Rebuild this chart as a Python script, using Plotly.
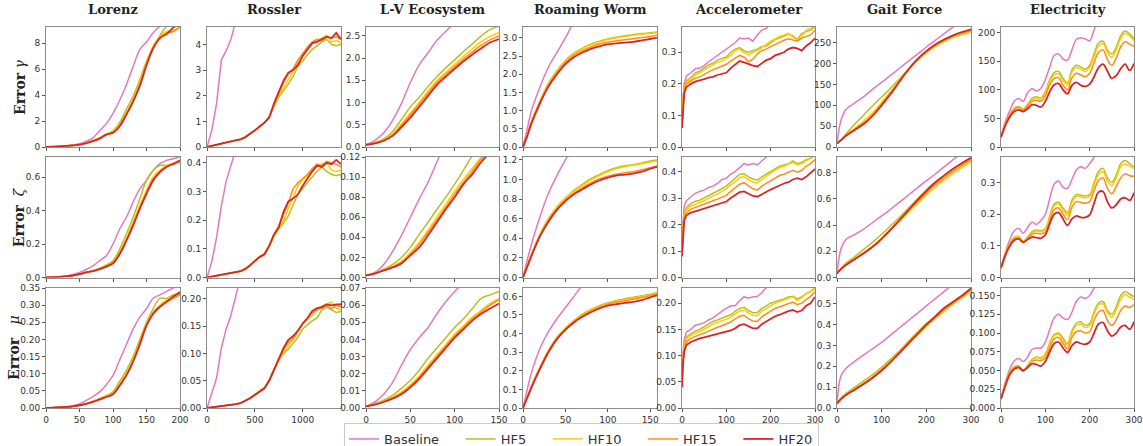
import plotly.graph_objects as go

NAMES = ["Baseline", "HF5", "HF10", "HF15", "HF20"]
COLORS = ["#e377c2", "#bcbd22", "#ffcc00", "#ff8c1a", "#d62728"]
DATASETS = ["Lorenz", "Rossler", "L-V Ecosystem", "Roaming Worm", "Accelerometer", "Gait Force", "Electricity"]
ROW_LABELS = ["<b>Error</b> <i>γ</i>", "<b>Error</b>  <i>ζ</i>", "<b>Error</b>   <i>μ</i>"]

# ---------------- Lorenz ----------------
LOR_X = list(range(0, 201, 10))
LOR_G = [
    [0, 0.02, 0.05, 0.09, 0.15, 0.25, 0.45, 0.7, 1.25, 1.8, 2.6, 3.6, 4.8, 6.2, 7.5, 8.1, 8.8, 9.3, 9.6, 9.9, 10.2],
    [0, 0.02, 0.05, 0.08, 0.12, 0.2, 0.32, 0.5, 0.72, 1.0, 1.25, 1.9, 2.9, 3.9, 5.2, 6.6, 7.7, 8.6, 9.3, 9.6, 9.9],
    [0, 0.02, 0.05, 0.08, 0.12, 0.19, 0.31, 0.47, 0.68, 0.97, 1.15, 1.7, 2.6, 3.6, 4.9, 6.5, 7.8, 8.5, 8.9, 9.0, 9.2],
    [0, 0.02, 0.05, 0.08, 0.12, 0.18, 0.3, 0.46, 0.66, 0.96, 1.12, 1.65, 2.55, 3.55, 4.8, 6.4, 7.7, 8.4, 8.8, 8.9, 9.3],
    [0, 0.02, 0.05, 0.08, 0.12, 0.18, 0.3, 0.45, 0.65, 0.95, 1.1, 1.6, 2.5, 3.5, 4.7, 6.3, 7.6, 8.4, 8.7, 9.2, 9.5],
]
LOR_Z = [
    [0, 0.002, 0.005, 0.01, 0.018, 0.03, 0.048, 0.07, 0.1, 0.13, 0.2, 0.29, 0.36, 0.45, 0.53, 0.58, 0.64, 0.68, 0.70, 0.71, 0.72],
    [0, 0.002, 0.004, 0.007, 0.012, 0.02, 0.032, 0.042, 0.056, 0.075, 0.1, 0.17, 0.26, 0.36, 0.47, 0.58, 0.64, 0.67, 0.67, 0.68, 0.69],
    [0, 0.002, 0.004, 0.007, 0.012, 0.02, 0.031, 0.04, 0.052, 0.068, 0.09, 0.15, 0.23, 0.33, 0.43, 0.52, 0.6, 0.64, 0.67, 0.68, 0.69],
    [0, 0.002, 0.004, 0.007, 0.012, 0.02, 0.03, 0.039, 0.051, 0.066, 0.088, 0.145, 0.225, 0.32, 0.42, 0.51, 0.59, 0.635, 0.665, 0.675, 0.69],
    [0, 0.002, 0.004, 0.007, 0.012, 0.02, 0.03, 0.038, 0.05, 0.065, 0.085, 0.14, 0.22, 0.31, 0.41, 0.5, 0.58, 0.63, 0.66, 0.68, 0.70],
]
LOR_M = [
    [0, 0.001, 0.002, 0.004, 0.007, 0.012, 0.022, 0.033, 0.047, 0.068, 0.095, 0.14, 0.185, 0.23, 0.265, 0.29, 0.32, 0.33, 0.34, 0.35, 0.355],
    [0, 0.001, 0.002, 0.003, 0.005, 0.008, 0.013, 0.02, 0.028, 0.036, 0.048, 0.078, 0.11, 0.15, 0.2, 0.25, 0.29, 0.32, 0.32, 0.33, 0.335],
    [0, 0.001, 0.002, 0.003, 0.005, 0.008, 0.012, 0.019, 0.026, 0.034, 0.044, 0.07, 0.1, 0.14, 0.19, 0.245, 0.28, 0.3, 0.315, 0.32, 0.33],
    [0, 0.001, 0.002, 0.003, 0.005, 0.008, 0.012, 0.018, 0.025, 0.033, 0.042, 0.068, 0.097, 0.138, 0.188, 0.242, 0.277, 0.297, 0.31, 0.32, 0.333],
    [0, 0.001, 0.002, 0.003, 0.005, 0.008, 0.012, 0.018, 0.025, 0.032, 0.04, 0.065, 0.095, 0.135, 0.185, 0.24, 0.275, 0.295, 0.31, 0.325, 0.338],
]

# ---------------- Rossler ----------------
ROS_X = list(range(0, 1401, 50))
ROS_G = [
    [0, 0.65, 1.7, 3.4, 3.75, 4.2, 4.9, 5.5],
    [0, 0.05, 0.1, 0.14, 0.19, 0.22, 0.26, 0.3, 0.4, 0.52, 0.66, 0.8, 0.95, 1.2, 1.6, 1.95, 2.2, 2.45, 2.75, 3.15, 3.35, 3.6, 3.8, 3.95, 4.1, 4.2, 4.0, 3.95, 4.0],
    [0, 0.05, 0.1, 0.14, 0.19, 0.22, 0.26, 0.3, 0.39, 0.51, 0.65, 0.8, 0.95, 1.18, 1.62, 2.0, 2.3, 2.6, 2.95, 3.35, 3.6, 3.85, 4.05, 4.15, 4.25, 4.35, 4.1, 4.15, 4.05],
    [0, 0.05, 0.1, 0.14, 0.19, 0.22, 0.26, 0.3, 0.38, 0.5, 0.65, 0.8, 0.95, 1.16, 1.65, 2.1, 2.5, 2.85, 3.05, 3.4, 3.65, 3.9, 4.1, 4.2, 4.15, 4.3, 4.25, 4.3, 4.2],
    [0, 0.05, 0.1, 0.14, 0.19, 0.22, 0.26, 0.3, 0.38, 0.5, 0.65, 0.8, 0.95, 1.15, 1.7, 2.15, 2.6, 2.9, 3.0, 3.2, 3.55, 3.8, 4.05, 4.1, 4.2, 4.3, 4.25, 4.45, 4.2],
]
ROS_Z = [
    [0, 0.055, 0.14, 0.25, 0.335, 0.39, 0.44, 0.5],
    [0, 0.003, 0.007, 0.01, 0.013, 0.016, 0.019, 0.022, 0.031, 0.044, 0.06, 0.073, 0.085, 0.11, 0.145, 0.17, 0.19, 0.215, 0.25, 0.29, 0.31, 0.33, 0.35, 0.37, 0.385, 0.37, 0.36, 0.355, 0.36],
    [0, 0.003, 0.007, 0.01, 0.013, 0.016, 0.019, 0.022, 0.03, 0.043, 0.059, 0.072, 0.083, 0.11, 0.145, 0.17, 0.2, 0.24, 0.28, 0.32, 0.34, 0.355, 0.375, 0.39, 0.395, 0.40, 0.375, 0.37, 0.375],
    [0, 0.003, 0.007, 0.01, 0.013, 0.016, 0.019, 0.022, 0.03, 0.042, 0.058, 0.072, 0.082, 0.11, 0.15, 0.18, 0.22, 0.26, 0.31, 0.33, 0.345, 0.36, 0.38, 0.395, 0.39, 0.405, 0.40, 0.395, 0.385],
    [0, 0.003, 0.007, 0.01, 0.013, 0.016, 0.019, 0.022, 0.03, 0.042, 0.058, 0.072, 0.08, 0.11, 0.15, 0.175, 0.23, 0.265, 0.275, 0.29, 0.32, 0.345, 0.37, 0.39, 0.385, 0.4, 0.395, 0.41, 0.395],
]
ROS_M = [
    [0, 0.027, 0.055, 0.11, 0.145, 0.17, 0.21, 0.24],
    [0, 0.001, 0.002, 0.003, 0.004, 0.005, 0.007, 0.009, 0.013, 0.019, 0.025, 0.031, 0.038, 0.052, 0.07, 0.088, 0.1, 0.108, 0.118, 0.13, 0.145, 0.152, 0.16, 0.165, 0.18, 0.185, 0.18, 0.175, 0.177],
    [0, 0.001, 0.002, 0.003, 0.004, 0.005, 0.007, 0.009, 0.013, 0.018, 0.024, 0.03, 0.037, 0.051, 0.07, 0.09, 0.103, 0.114, 0.125, 0.14, 0.155, 0.162, 0.172, 0.18, 0.187, 0.19, 0.194, 0.183, 0.18],
    [0, 0.001, 0.002, 0.003, 0.004, 0.005, 0.007, 0.009, 0.013, 0.018, 0.024, 0.03, 0.036, 0.05, 0.07, 0.091, 0.108, 0.12, 0.128, 0.14, 0.155, 0.165, 0.175, 0.18, 0.183, 0.188, 0.182, 0.188, 0.185],
    [0, 0.001, 0.002, 0.003, 0.004, 0.005, 0.007, 0.009, 0.013, 0.018, 0.024, 0.03, 0.036, 0.05, 0.07, 0.092, 0.11, 0.125, 0.132, 0.142, 0.155, 0.165, 0.178, 0.183, 0.185, 0.19, 0.188, 0.19, 0.19],
]

# ---------------- L-V Ecosystem ----------------
LV_X = list(range(0, 151, 10))
LV_G = [
    [0.05, 0.15, 0.32, 0.6, 0.98, 1.45, 1.85, 2.12, 2.4, 2.6, 2.8, 3.0],
    [0.05, 0.1, 0.18, 0.35, 0.62, 0.9, 1.12, 1.36, 1.58, 1.78, 1.96, 2.15, 2.32, 2.5, 2.64, 2.72],
    [0.05, 0.09, 0.16, 0.29, 0.52, 0.76, 1.0, 1.26, 1.49, 1.68, 1.86, 2.04, 2.21, 2.37, 2.49, 2.58],
    [0.05, 0.085, 0.15, 0.27, 0.49, 0.72, 0.96, 1.21, 1.45, 1.63, 1.81, 1.98, 2.14, 2.29, 2.41, 2.5],
    [0.05, 0.08, 0.14, 0.25, 0.45, 0.66, 0.9, 1.15, 1.4, 1.58, 1.76, 1.93, 2.08, 2.22, 2.35, 2.43],
]
LV_Z = [
    [0.002, 0.005, 0.013, 0.026, 0.042, 0.06, 0.078, 0.095, 0.115, 0.135],
    [0.002, 0.004, 0.008, 0.013, 0.02, 0.03, 0.043, 0.055, 0.068, 0.08, 0.093, 0.107, 0.122],
    [0.002, 0.0045, 0.0075, 0.011, 0.016, 0.025, 0.035, 0.047, 0.06, 0.073, 0.086, 0.098, 0.109, 0.12, 0.13],
    [0.002, 0.004, 0.0072, 0.0105, 0.015, 0.023, 0.033, 0.045, 0.057, 0.07, 0.083, 0.095, 0.106, 0.118, 0.127],
    [0.002, 0.004, 0.007, 0.01, 0.014, 0.022, 0.03, 0.042, 0.055, 0.068, 0.08, 0.093, 0.103, 0.115, 0.124, 0.13],
]
LV_M = [
    [0.001, 0.0035, 0.008, 0.015, 0.025, 0.034, 0.041, 0.047, 0.055, 0.062, 0.068, 0.073],
    [0.001, 0.0025, 0.0045, 0.0075, 0.0115, 0.016, 0.022, 0.029, 0.035, 0.041, 0.047, 0.052, 0.058, 0.064, 0.066, 0.068],
    [0.001, 0.0022, 0.004, 0.0063, 0.0092, 0.0135, 0.0185, 0.025, 0.031, 0.037, 0.043, 0.048, 0.053, 0.057, 0.061, 0.064],
    [0.001, 0.0021, 0.0037, 0.006, 0.0087, 0.0128, 0.018, 0.024, 0.030, 0.036, 0.042, 0.047, 0.052, 0.056, 0.060, 0.063],
    [0.001, 0.002, 0.0035, 0.0055, 0.008, 0.012, 0.017, 0.023, 0.029, 0.035, 0.041, 0.046, 0.051, 0.055, 0.058, 0.061],
]

# ---------------- Roaming Worm ----------------
RW_X = [0, 5, 10, 20, 30, 40, 50, 60, 70, 80, 90, 100, 110, 120, 130, 140, 150, 158]
RW_G = [
    [0, 0.5, 1.0, 1.65, 2.2, 2.6, 3.0, 3.45],
    [0, 0.35, 0.7, 1.27, 1.75, 2.1, 2.38, 2.58, 2.72, 2.83, 2.91, 2.97, 3.02, 3.06, 3.09, 3.12, 3.14, 3.16],
    [0, 0.34, 0.69, 1.25, 1.73, 2.08, 2.36, 2.56, 2.7, 2.81, 2.89, 2.95, 3.0, 3.04, 3.07, 3.1, 3.12, 3.14],
    [0, 0.32, 0.67, 1.22, 1.7, 2.04, 2.32, 2.52, 2.65, 2.75, 2.83, 2.88, 2.92, 2.95, 2.98, 3.01, 3.04, 3.07],
    [0, 0.3, 0.65, 1.2, 1.66, 2.0, 2.28, 2.47, 2.6, 2.7, 2.77, 2.82, 2.85, 2.87, 2.89, 2.93, 2.97, 3.0],
]
RW_Z = [
    [0, 0.18, 0.34, 0.62, 0.86, 1.04, 1.2, 1.35],
    [0, 0.12, 0.24, 0.44, 0.6, 0.72, 0.81, 0.89, 0.95, 1.01, 1.05, 1.09, 1.12, 1.14, 1.15, 1.17, 1.19, 1.2],
    [0, 0.12, 0.235, 0.435, 0.595, 0.715, 0.805, 0.88, 0.94, 0.995, 1.04, 1.08, 1.11, 1.13, 1.145, 1.16, 1.18, 1.19],
    [0, 0.11, 0.225, 0.425, 0.58, 0.7, 0.79, 0.86, 0.915, 0.965, 1.005, 1.035, 1.055, 1.07, 1.08, 1.1, 1.12, 1.14],
    [0, 0.11, 0.22, 0.42, 0.57, 0.69, 0.78, 0.85, 0.9, 0.95, 0.99, 1.02, 1.04, 1.05, 1.06, 1.08, 1.11, 1.13],
]
RW_M = [
    [0, 0.1, 0.19, 0.32, 0.41, 0.48, 0.54, 0.6, 0.66],
    [0, 0.06, 0.12, 0.22, 0.31, 0.38, 0.43, 0.47, 0.505, 0.53, 0.55, 0.565, 0.578, 0.587, 0.595, 0.603, 0.612, 0.62],
    [0, 0.058, 0.117, 0.217, 0.307, 0.377, 0.427, 0.467, 0.5, 0.526, 0.546, 0.561, 0.574, 0.583, 0.591, 0.6, 0.609, 0.617],
    [0, 0.056, 0.114, 0.213, 0.303, 0.373, 0.423, 0.463, 0.495, 0.52, 0.54, 0.556, 0.568, 0.577, 0.585, 0.594, 0.604, 0.614],
    [0, 0.055, 0.11, 0.21, 0.3, 0.37, 0.42, 0.46, 0.49, 0.515, 0.535, 0.55, 0.558, 0.565, 0.57, 0.58, 0.595, 0.605],
]

# ---------------- Accelerometer ----------------
AC_X = [0, 2, 5] + list(range(10, 301, 10))
AC_G = [
    [0.06, 0.15, 0.2, 0.225, 0.235, 0.248, 0.25, 0.258, 0.27, 0.28, 0.29, 0.298, 0.31, 0.32, 0.33, 0.345, 0.342, 0.345, 0.335, 0.355, 0.37, 0.375, 0.39],
    [0.06, 0.14, 0.19, 0.21, 0.22, 0.235, 0.24, 0.25, 0.26, 0.265, 0.275, 0.28, 0.285, 0.3, 0.31, 0.315, 0.305, 0.3, 0.305, 0.31, 0.318, 0.32, 0.33, 0.34, 0.345, 0.352, 0.358, 0.352, 0.34, 0.36, 0.365, 0.37, 0.38],
    [0.06, 0.14, 0.185, 0.205, 0.215, 0.228, 0.235, 0.245, 0.252, 0.26, 0.268, 0.272, 0.28, 0.29, 0.305, 0.31, 0.3, 0.292, 0.3, 0.305, 0.315, 0.325, 0.335, 0.342, 0.35, 0.355, 0.36, 0.348, 0.338, 0.35, 0.37, 0.375, 0.385],
    [0.06, 0.13, 0.18, 0.2, 0.208, 0.218, 0.222, 0.23, 0.238, 0.245, 0.25, 0.255, 0.262, 0.272, 0.282, 0.29, 0.285, 0.27, 0.278, 0.295, 0.305, 0.31, 0.318, 0.325, 0.33, 0.338, 0.343, 0.34, 0.335, 0.345, 0.35, 0.355, 0.37],
    [0.06, 0.12, 0.17, 0.19, 0.2, 0.207, 0.21, 0.215, 0.22, 0.222, 0.228, 0.232, 0.235, 0.25, 0.26, 0.272, 0.268, 0.262, 0.258, 0.255, 0.265, 0.275, 0.28, 0.29, 0.295, 0.3, 0.31, 0.315, 0.312, 0.305, 0.32, 0.33, 0.345],
]
AC_Z = [
    [0.08, 0.2, 0.27, 0.29, 0.305, 0.318, 0.325, 0.33, 0.34, 0.345, 0.355, 0.37, 0.375, 0.39, 0.4, 0.415, 0.43, 0.425, 0.43, 0.425, 0.44, 0.455, 0.47],
    [0.08, 0.18, 0.24, 0.265, 0.28, 0.288, 0.292, 0.3, 0.31, 0.318, 0.325, 0.335, 0.345, 0.36, 0.375, 0.39, 0.392, 0.38, 0.372, 0.368, 0.38, 0.39, 0.4, 0.41, 0.42, 0.425, 0.43, 0.44, 0.43, 0.435, 0.445, 0.45, 0.46],
    [0.08, 0.175, 0.235, 0.255, 0.27, 0.278, 0.283, 0.29, 0.3, 0.308, 0.315, 0.325, 0.335, 0.35, 0.362, 0.378, 0.38, 0.37, 0.36, 0.358, 0.37, 0.382, 0.395, 0.405, 0.415, 0.42, 0.428, 0.435, 0.425, 0.43, 0.44, 0.45, 0.465],
    [0.08, 0.17, 0.225, 0.245, 0.258, 0.265, 0.27, 0.276, 0.283, 0.29, 0.296, 0.303, 0.31, 0.325, 0.34, 0.352, 0.358, 0.345, 0.335, 0.33, 0.345, 0.355, 0.365, 0.375, 0.385, 0.39, 0.398, 0.405, 0.398, 0.405, 0.42, 0.43, 0.445],
    [0.08, 0.16, 0.215, 0.235, 0.245, 0.25, 0.255, 0.26, 0.265, 0.27, 0.275, 0.28, 0.287, 0.3, 0.31, 0.322, 0.325, 0.315, 0.308, 0.305, 0.315, 0.325, 0.332, 0.34, 0.348, 0.355, 0.36, 0.37, 0.375, 0.37, 0.38, 0.395, 0.41],
]
AC_M = [
    [0.04, 0.1, 0.13, 0.145, 0.15, 0.158, 0.16, 0.163, 0.168, 0.172, 0.178, 0.185, 0.19, 0.195, 0.195, 0.205, 0.212, 0.21, 0.212, 0.213, 0.22, 0.23, 0.24],
    [0.04, 0.09, 0.12, 0.135, 0.142, 0.147, 0.15, 0.155, 0.16, 0.165, 0.168, 0.172, 0.175, 0.178, 0.185, 0.19, 0.192, 0.186, 0.182, 0.182, 0.19, 0.195, 0.2, 0.203, 0.205, 0.208, 0.212, 0.213, 0.208, 0.212, 0.218, 0.222, 0.228],
    [0.04, 0.088, 0.117, 0.132, 0.138, 0.143, 0.146, 0.15, 0.155, 0.16, 0.163, 0.167, 0.17, 0.173, 0.18, 0.185, 0.187, 0.181, 0.177, 0.176, 0.185, 0.19, 0.196, 0.2, 0.203, 0.206, 0.21, 0.212, 0.205, 0.21, 0.218, 0.223, 0.23],
    [0.04, 0.086, 0.113, 0.127, 0.133, 0.137, 0.14, 0.143, 0.147, 0.151, 0.154, 0.157, 0.16, 0.164, 0.17, 0.175, 0.177, 0.17, 0.166, 0.165, 0.174, 0.18, 0.185, 0.19, 0.193, 0.196, 0.2, 0.202, 0.197, 0.2, 0.207, 0.213, 0.222],
    [0.04, 0.082, 0.108, 0.12, 0.126, 0.13, 0.133, 0.135, 0.137, 0.139, 0.141, 0.143, 0.145, 0.148, 0.152, 0.158, 0.16, 0.156, 0.152, 0.152, 0.16, 0.165, 0.17, 0.175, 0.178, 0.182, 0.185, 0.187, 0.183, 0.186, 0.195, 0.2, 0.212],
]

# ---------------- Gait Force ----------------
GF_X = [0, 5, 10] + list(range(20, 301, 20))
GF_G = [
    [8, 45, 68, 90, 106, 121, 139, 155, 172, 189, 206, 223, 240, 256, 272, 288, 300, 310],
    [8, 14, 19, 31, 55, 77, 99, 120, 141, 164, 187, 210, 230, 246, 258, 268, 276, 283],
    [8, 13, 18, 28, 45, 62, 83, 107, 133, 160, 186, 208, 226, 241, 253, 263, 270, 276],
    [8, 13, 17.5, 27.5, 43, 58, 78, 103, 130, 158, 186, 209, 228, 244, 256, 266, 273, 279],
    [8, 13, 17, 27, 41, 55, 75, 100, 127, 157, 186, 211, 230, 246, 258, 268, 276, 282],
]
GF_Z = [
    [0.03, 0.16, 0.23, 0.29, 0.33, 0.37, 0.42, 0.47, 0.52, 0.575, 0.63, 0.685, 0.74, 0.79, 0.845, 0.9, 0.95, 1.0],
    [0.03, 0.055, 0.075, 0.11, 0.16, 0.215, 0.27, 0.33, 0.395, 0.46, 0.53, 0.6, 0.67, 0.73, 0.78, 0.83, 0.87, 0.905],
    [0.03, 0.052, 0.07, 0.1, 0.145, 0.19, 0.24, 0.3, 0.365, 0.43, 0.5, 0.565, 0.63, 0.69, 0.745, 0.795, 0.84, 0.885],
    [0.03, 0.051, 0.069, 0.098, 0.142, 0.188, 0.238, 0.298, 0.365, 0.435, 0.508, 0.578, 0.645, 0.708, 0.762, 0.812, 0.857, 0.9],
    [0.03, 0.05, 0.068, 0.095, 0.14, 0.185, 0.235, 0.295, 0.365, 0.44, 0.515, 0.59, 0.66, 0.725, 0.78, 0.83, 0.875, 0.915],
]
GF_M = [
    [0.02, 0.12, 0.16, 0.19, 0.225, 0.255, 0.285, 0.315, 0.35, 0.385, 0.42, 0.455, 0.49, 0.525, 0.56, 0.595, 0.63, 0.66],
    [0.02, 0.037, 0.05, 0.07, 0.1, 0.13, 0.16, 0.195, 0.235, 0.275, 0.32, 0.365, 0.405, 0.44, 0.475, 0.51, 0.54, 0.57],
    [0.02, 0.035, 0.047, 0.065, 0.092, 0.12, 0.15, 0.185, 0.225, 0.265, 0.31, 0.352, 0.392, 0.43, 0.465, 0.5, 0.53, 0.56],
    [0.02, 0.034, 0.046, 0.063, 0.09, 0.117, 0.147, 0.182, 0.222, 0.265, 0.31, 0.354, 0.396, 0.435, 0.472, 0.505, 0.535, 0.568],
    [0.02, 0.034, 0.045, 0.062, 0.088, 0.115, 0.145, 0.18, 0.22, 0.265, 0.31, 0.355, 0.4, 0.44, 0.48, 0.51, 0.54, 0.575],
]

# ---------------- Electricity ----------------
EL_X = list(range(0, 301, 10))
EL_G = [
    [17, 45, 64, 80, 85, 80, 95, 102, 98, 103, 118, 140, 160, 163, 154, 152, 170, 188, 191, 189, 186, 205, 225, 235],
    [17, 40, 57, 68, 71, 66, 75, 85, 88, 86, 97, 118, 130, 132, 120, 112, 135, 143, 140, 136, 143, 163, 182, 185, 170, 163, 175, 195, 203, 198, 190],
    [17, 40, 57, 67, 70, 65, 74, 83, 86, 84, 95, 115, 126, 128, 116, 108, 131, 139, 136, 132, 139, 158, 177, 181, 165, 157, 170, 190, 199, 194, 186],
    [17, 39, 56, 66, 69, 64, 72, 80, 82, 80, 90, 109, 120, 121, 108, 100, 121, 129, 126, 123, 129, 148, 166, 170, 153, 143, 156, 175, 184, 180, 176],
    [17, 38, 53, 62, 65, 62, 67, 74, 73, 70, 80, 97, 109, 111, 100, 93, 108, 113, 108, 106, 110, 123, 139, 145, 133, 120, 125, 137, 145, 134, 146],
]
EL_Z = [
    [0.03, 0.08, 0.12, 0.148, 0.155, 0.14, 0.158, 0.175, 0.168, 0.18, 0.2, 0.25, 0.295, 0.305, 0.285, 0.282, 0.31, 0.34, 0.35, 0.345, 0.36, 0.38, 0.4],
    [0.03, 0.075, 0.108, 0.127, 0.13, 0.115, 0.128, 0.145, 0.15, 0.148, 0.155, 0.195, 0.232, 0.238, 0.22, 0.205, 0.245, 0.262, 0.26, 0.258, 0.262, 0.3, 0.335, 0.345, 0.315, 0.3, 0.325, 0.36, 0.37, 0.36, 0.35],
    [0.03, 0.075, 0.107, 0.125, 0.128, 0.113, 0.126, 0.142, 0.147, 0.145, 0.152, 0.19, 0.227, 0.232, 0.213, 0.197, 0.238, 0.257, 0.255, 0.252, 0.256, 0.292, 0.326, 0.335, 0.305, 0.29, 0.315, 0.35, 0.36, 0.352, 0.345],
    [0.03, 0.073, 0.104, 0.121, 0.124, 0.11, 0.122, 0.137, 0.14, 0.138, 0.145, 0.18, 0.215, 0.22, 0.2, 0.183, 0.222, 0.24, 0.238, 0.235, 0.24, 0.275, 0.307, 0.315, 0.282, 0.265, 0.288, 0.315, 0.328, 0.322, 0.32],
    [0.03, 0.07, 0.1, 0.118, 0.122, 0.112, 0.12, 0.128, 0.126, 0.124, 0.135, 0.17, 0.2, 0.205, 0.185, 0.165, 0.185, 0.195, 0.19, 0.19, 0.198, 0.235, 0.27, 0.272, 0.24, 0.22, 0.23, 0.248, 0.252, 0.244, 0.268],
]
EL_M = [
    [0.012, 0.035, 0.052, 0.063, 0.066, 0.062, 0.068, 0.078, 0.08, 0.08, 0.088, 0.105, 0.12, 0.125, 0.12, 0.118, 0.128, 0.142, 0.148, 0.146, 0.15, 0.16, 0.17],
    [0.012, 0.032, 0.048, 0.055, 0.056, 0.05, 0.057, 0.065, 0.068, 0.067, 0.072, 0.087, 0.098, 0.1, 0.093, 0.086, 0.103, 0.113, 0.115, 0.11, 0.113, 0.128, 0.14, 0.142, 0.13, 0.125, 0.135, 0.15, 0.155, 0.152, 0.148],
    [0.012, 0.032, 0.047, 0.054, 0.055, 0.049, 0.056, 0.064, 0.067, 0.066, 0.071, 0.085, 0.096, 0.098, 0.09, 0.083, 0.1, 0.11, 0.112, 0.107, 0.11, 0.125, 0.137, 0.139, 0.127, 0.121, 0.131, 0.145, 0.151, 0.148, 0.145],
    [0.012, 0.031, 0.046, 0.053, 0.054, 0.049, 0.055, 0.062, 0.064, 0.063, 0.067, 0.081, 0.092, 0.094, 0.086, 0.079, 0.094, 0.102, 0.103, 0.1, 0.102, 0.117, 0.128, 0.13, 0.117, 0.11, 0.118, 0.13, 0.136, 0.134, 0.138],
    [0.012, 0.03, 0.045, 0.052, 0.054, 0.05, 0.054, 0.059, 0.058, 0.056, 0.062, 0.075, 0.086, 0.088, 0.08, 0.074, 0.083, 0.088, 0.086, 0.085, 0.088, 0.1, 0.112, 0.114, 0.103, 0.096, 0.1, 0.108, 0.11, 0.105, 0.115],
]

# ---------------- axis settings ----------------
XS = [LOR_X, ROS_X, LV_X, RW_X, AC_X, GF_X, EL_X]
PANELS = [
    [LOR_G, LOR_Z, LOR_M], [ROS_G, ROS_Z, ROS_M], [LV_G, LV_Z, LV_M], [RW_G, RW_Z, RW_M],
    [AC_G, AC_Z, AC_M], [GF_G, GF_Z, GF_M], [EL_G, EL_Z, EL_M],
]
SHAPES = ["spline", "linear", "spline", "spline", "linear", "spline", "spline"]
X_MAX = [200, 1400, 150, 158, 300, 300, 300]
X_DTICK = [50, 500, 50, 50, 100, 100, 100]
Y_MAX = [
    [9.25, 0.72, 0.35], [4.68, 0.42, 0.22], [2.7, 0.12, 0.07], [3.3, 1.23, 0.645],
    [0.38, 0.455, 0.229], [288, 0.92, 0.576], [210, 0.381, 0.16],
]
Y_DTICK = [
    [2, 0.2, 0.05], [1, 0.1, 0.05], [0.5, 0.02, 0.01], [0.5, 0.2, 0.1],
    [0.1, 0.1, 0.05], [50, 0.2, 0.1], [50, 0.1, 0.025],
]
Y_FMT = [
    ["d", ".1f", ".2f"], ["d", ".1f", ".2f"], [".1f", ".2f", ".2f"], [".1f", ".1f", ".1f"],
    [".1f", ".1f", ".2f"], ["d", ".1f", ".1f"], ["d", ".1f", ".3f"],
]

W, H = 1143, 446
COL_PX = [(46, 180), (207, 341), (366, 499), (523, 657), (682, 815), (837, 971), (1001, 1134)]
ROW_PX = [(27, 147), (157, 277.5), (288, 408)]
ROW_LABEL_X = [20, 19, 14]
PAD = "\u00a0" * 4

fig = go.Figure()
layout = dict(
    width=W, height=H, margin=dict(l=0, r=0, t=0, b=0, autoexpand=False),
    paper_bgcolor="white", plot_bgcolor="white", annotations=[],
)
tick_font = dict(family="DejaVu Sans", size=9, color="#333333")

for c in range(7):
    for r in range(3):
        k = r * 7 + c + 1
        xa = "x" if k == 1 else f"x{k}"
        ya = "y" if k == 1 else f"y{k}"
        series = PANELS[c][r]
        xs = XS[c]
        for s in range(5):
            ys = series[s]
            fig.add_trace(go.Scatter(
                x=xs[:len(ys)], y=ys, mode="lines",
                name=NAMES[s] + (PAD if s < 4 else ""),
                line=dict(color=COLORS[s], width=1.8 if s == 4 else 1.5, shape=SHAPES[c]),
                showlegend=(k == 1), legendgroup=NAMES[s], xaxis=xa, yaxis=ya,
                hoverinfo="skip",
            ))
        x0, x1 = COL_PX[c]
        y0, y1 = ROW_PX[r]
        common = dict(showline=True, mirror=True, linecolor="#8c8c8c", linewidth=1,
                      showgrid=False, zeroline=False, ticks="outside", ticklen=3,
                      tickcolor="#555555", tickwidth=1, tickfont=tick_font)
        layout[f"xaxis{k}"] = dict(
            domain=[x0 / W, x1 / W], anchor=ya, range=[0, X_MAX[c]],
            tick0=0, dtick=X_DTICK[c], showticklabels=(r == 2), **common)
        layout[f"yaxis{k}"] = dict(
            domain=[1 - y1 / H, 1 - y0 / H], anchor=xa, range=[0, Y_MAX[c][r]],
            tick0=0, dtick=Y_DTICK[c][r], tickformat=Y_FMT[c][r], **common)

for c in range(7):
    x0, x1 = COL_PX[c]
    layout["annotations"].append(dict(
        x=(x0 + x1) / 2 / W, y=1 - 10 / H, xref="paper", yref="paper",
        text=f"<b>{DATASETS[c]}</b>", showarrow=False,
        font=dict(family="DejaVu Serif", size=13, color="#222222"),
        xanchor="center", yanchor="middle"))
for r in range(3):
    y0, y1 = ROW_PX[r]
    layout["annotations"].append(dict(
        x=ROW_LABEL_X[r] / W, y=1 - (y0 + y1) / 2 / H, xref="paper", yref="paper",
        text=ROW_LABELS[r], showarrow=False, textangle=-90,
        font=dict(family="DejaVu Serif", size=14, color="#222222"),
        xanchor="center", yanchor="middle"))

layout["legend"] = dict(
    orientation="h", x=344 / W, y=1 - 423 / H, xanchor="left", yanchor="top",
    xref="paper", yref="paper",
    font=dict(family="DejaVu Sans", size=13, color="#333333"),
    bordercolor="#cccccc", borderwidth=1, bgcolor="white", itemwidth=30,
)
fig.update_layout(**layout)
fig.write_html("out.html")
